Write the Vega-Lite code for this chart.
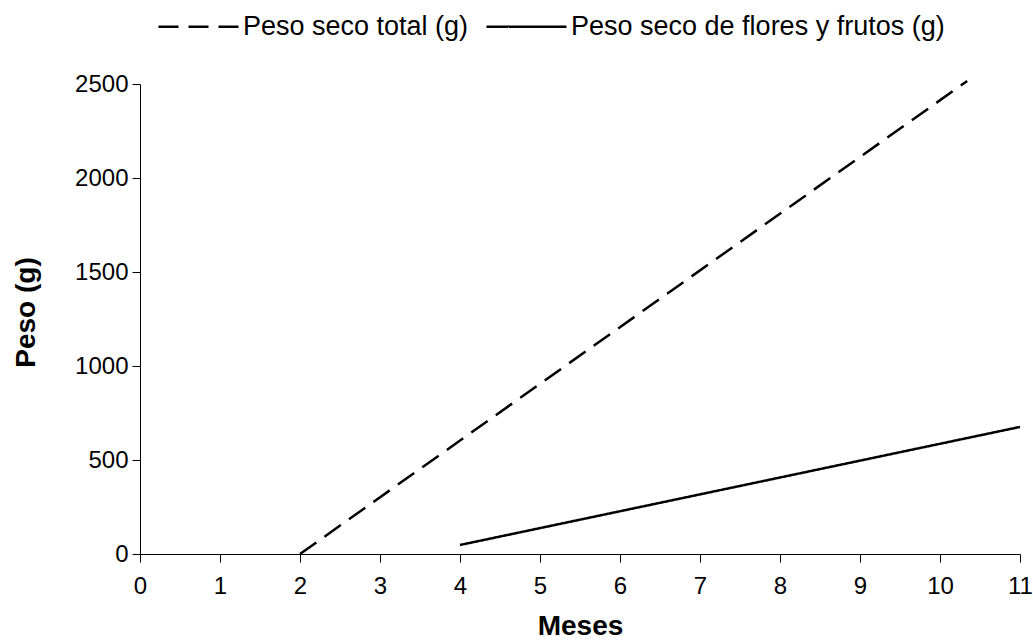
{
  "$schema": "https://vega.github.io/schema/vega-lite/v6.json",
  "width": 880,
  "height": 470,
  "autosize": "none",
  "padding": {"left": 140, "top": 84, "right": 13, "bottom": 87},
  "background": "white",
  "config": {
    "view": {"stroke": null},
    "font": "Liberation Sans"
  },
  "data": {
    "values": [
      {"mes": 2, "peso": 0, "serie": "Peso seco total (g)"},
      {"mes": 10.34, "peso": 2516, "serie": "Peso seco total (g)"},
      {"mes": 4, "peso": 48, "serie": "Peso seco de flores y frutos (g)"},
      {"mes": 11, "peso": 676, "serie": "Peso seco de flores y frutos (g)"}
    ]
  },
  "mark": {"type": "line", "strokeWidth": 2.5, "color": "black", "clip": false},
  "encoding": {
    "x": {
      "field": "mes", "type": "quantitative",
      "scale": {"domain": [0, 11], "nice": false, "zero": false},
      "axis": {
        "title": "Meses", "values": [0,1,2,3,4,5,6,7,8,9,10,11], "format": "d",
        "grid": false, "domainColor": "black", "tickColor": "black", "labelFlush": false,
        "tickSize": 8, "labelFontSize": 24, "labelColor": "black", "labelPadding": 12,
        "labelFont": "Liberation Sans",
        "titleFont": "Liberation Sans", "titleFontSize": 28, "titleFontWeight": "bold", "titleColor": "black",
        "titleBaseline": "alphabetic", "titleY": 80, "titleX": 440
      }
    },
    "y": {
      "field": "peso", "type": "quantitative",
      "scale": {"domain": [0, 2500], "nice": false},
      "axis": {
        "title": "Peso (g)", "values": [0,500,1000,1500,2000,2500], "format": "d",
        "grid": false, "domainColor": "black", "tickColor": "black", "labelFlush": false,
        "tickSize": 8, "labelFontSize": 24, "labelColor": "black", "labelPadding": 4,
        "labelFont": "Liberation Sans",
        "titleFont": "Liberation Sans", "titleFontSize": 28, "titleFontWeight": "bold", "titleColor": "black",
        "titleBaseline": "alphabetic", "titleX": -106, "titleY": 228, "titleAngle": -90
      }
    },
    "strokeDash": {
      "field": "serie", "type": "nominal",
      "scale": {"domain": ["Peso seco total (g)", "Peso seco de flores y frutos (g)"], "range": [[20, 10], [1, 0]]},
      "legend": {
        "title": null, "orient": "none", "direction": "horizontal",
        "legendX": 17, "legendY": -99,
        "symbolType": "stroke", "symbolSize": 6400, "symbolStrokeWidth": 2.5,
        "symbolStrokeColor": "black",
        "labelFont": "Liberation Sans", "labelFontSize": 27, "labelColor": "black",
        "labelOffset": 3, "columnPadding": 12, "labelLimit": 600
      }
    }
  }
}
